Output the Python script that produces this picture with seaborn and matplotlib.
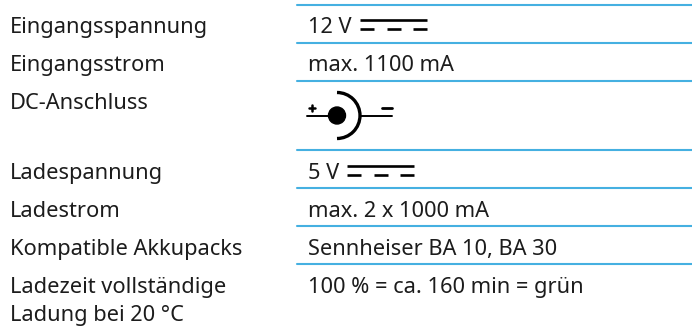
#!/usr/bin/env python3
"""Technische Daten: spec table with DC symbols, drawn in pixel coordinates."""

import matplotlib.pyplot as plt
from matplotlib.patches import Arc, Circle
import seaborn as sns

# -- data ---------------------------------------------------------------------
left_labels = [
    "Eingangsspannung",
    "Eingangsstrom",
    "DC-Anschluss",
    "Ladespannung",
    "Ladestrom",
    "Kompatible Akkupacks",
    "Ladezeit vollständige",
    "Ladung bei 20 °C",
]
right_labels = [
    "12 V",
    "max. 1100 mA",
    "",
    "5 V",
    "max. 2 x 1000 mA",
    "Sennheiser BA 10, BA 30",
    "100 % = ca. 160 min = grün",
    "",
]

# -- layout -------------------------------------------------------------------
W, H = 692, 329
text_y = [25, 63, 101, 171, 209, 247, 285, 313]
rule_y = [5, 43, 81, 150, 188, 226, 264]
rule_color = "#45b0e1"
text_color = "#1c1c1c"
font_size = 15.7

sns.set_theme(style="white")
plt.rcParams["font.family"] = ["Noto Sans", "DejaVu Sans"]

fig = plt.figure(figsize=(W / 100, H / 100), dpi=100)
ax = fig.add_axes([0, 0, 1, 1])
ax.set_xlim(0, W)
ax.set_ylim(H, 0)
ax.axis("off")

for y in rule_y:
    sns.lineplot(x=[297, W], y=[y, y], ax=ax, color=rule_color, linewidth=1.5)

for y, left, right in zip(text_y, left_labels, right_labels):
    ax.text(10, y, left, fontsize=font_size, color=text_color, ha="left", va="center_baseline")
    ax.text(308, y, right, fontsize=font_size, color=text_color, ha="left", va="center_baseline")


def dc_symbol(x0, y0):
    """Solid line over three dashes."""
    ax.plot([x0, x0 + 67], [y0, y0], color="black", lw=1.9, solid_capstyle="butt")
    for start in (0, 27, 53):
        ax.plot([x0 + start, x0 + start + 14], [y0 + 8.5, y0 + 8.5],
                color="black", lw=1.9, solid_capstyle="butt")


dc_symbol(360, 20)
dc_symbol(347, 166)

# barrel connector symbol
cy = 115.5
ax.plot([307, 330], [cy, cy], color="black", lw=1.4)
ax.plot([360, 392], [cy, cy], color="black", lw=1.4)
ax.add_patch(Circle((337, cy), 8.5, color="black"))
ax.add_patch(Arc((337, cy), 46, 46, theta1=-90, theta2=90, color="black", lw=2.4))
ax.plot([309, 315], [108, 108], color="black", lw=1.8)
ax.plot([312, 312], [105, 111], color="black", lw=1.8)
ax.plot([382, 392], [107.5, 107.5], color="black", lw=2.0)

fig.savefig("out.png", dpi=100)
plt.close(fig)
